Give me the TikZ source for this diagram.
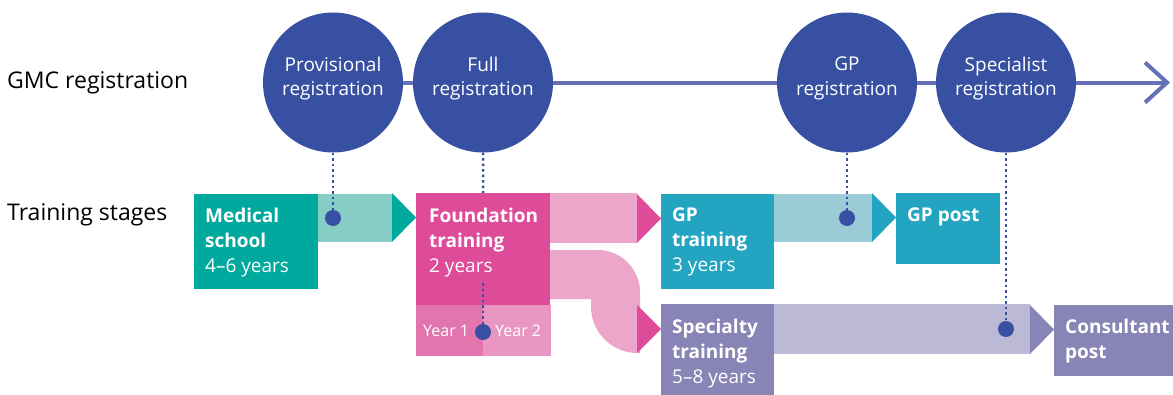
\documentclass[tikz,border=0pt]{standalone}
\usepackage{fontspec}
\setmainfont{Open Sans}
\usetikzlibrary{arrows.meta}
\definecolor{gmcblue}{RGB}{56,80,162}
\definecolor{gmcline}{RGB}{101,112,184}
\definecolor{medteal}{RGB}{0,169,157}
\definecolor{medlight}{RGB}{134,205,198}
\definecolor{fdpink}{RGB}{222,76,153}
\definecolor{fdlight}{RGB}{235,166,201}
\definecolor{fdyearA}{RGB}{226,116,174}
\definecolor{fdyearB}{RGB}{233,150,194}
\definecolor{gpteal}{RGB}{35,165,193}
\definecolor{gplight}{RGB}{156,203,216}
\definecolor{stpurple}{RGB}{136,132,181}
\definecolor{stlight}{RGB}{188,185,215}

% light band from one stage box, ending in a tip on the next one
\newcommand{\stageband}[4]{%
  \fill[#1] (#3.north east) rectangle ([xshift=-24pt,yshift=-49pt]#4.north west);
  \fill[#2] ([xshift=-24pt]#4.north west) -- ([yshift=-24.5pt]#4.north west)
    -- ([xshift=-24pt,yshift=-49pt]#4.north west) -- cycle;}

\begin{document}
\begin{tikzpicture}[x=1pt,y=-1pt,
  reg/.style={circle,fill=gmcblue,minimum size=140pt,inner sep=0pt},
  regtext/.style={inner sep=0pt,text=white,align=center,font=\fontsize{19}{24.5}\selectfont},
  regline/.style={gmcline,line width=4pt},
  stagebox/.style={fill=#1,anchor=north west,inner sep=0pt},
  stagetext/.style={anchor=north west,inner sep=0pt,align=left,text=white,
    font=\fontsize{19}{25}\selectfont},
  yeartext/.style={anchor=west,inner sep=0pt,text=white,font=\fontsize{16}{20}\selectfont},
  regdot/.style={circle,fill=gmcblue,minimum size=16pt,inner sep=0pt},
  dotline/.style={gmcblue,line width=2.5pt,dash pattern=on 2.5pt off 3pt},
  rowlabel/.style={anchor=west,inner sep=0pt,font=\fontsize{23}{27}\selectfont}]
  \useasboundingbox (0,0) rectangle (1173,394);

  \node[rowlabel] (gmc) at (7,82.5) {GMC registration};
  \node[rowlabel] (stages) at (7,215) {Training stages};

  % registration circles
  \node[reg] (prov) at (333,82.5) {};
  \node[reg] (full) at (483,82.5) {};
  \node[reg] (gpreg) at (847,82.5) {};
  \node[reg] (spreg) at (1006,82.5) {};
  \coordinate (regend) at (1170,82.5);
  \draw[regline] (prov) -- (full) (full) -- (gpreg) (gpreg) -- (spreg);
  \draw[regline,-{Straight Barb[length=22pt,width=40pt]}] (spreg) -- (regend);
  \node[regtext] (provtxt) at ([yshift=4pt]prov) {Provisional\\registration};
  \node[regtext] (fulltxt) at ([yshift=4pt]full) {Full\\registration};
  \node[regtext] (gpregtxt) at ([yshift=4pt]gpreg) {GP\\registration};
  \node[regtext] (spregtxt) at ([yshift=4pt]spreg) {Specialist\\registration};

  % training stages
  \node[stagebox=medteal,minimum width=124pt,minimum height=95pt] (med) at (194,194) {};
  \node[stagebox=fdpink,minimum width=134pt,minimum height=112pt] (fd) at (416,193) {};
  \node[stagebox=fdyearA,minimum width=67pt,minimum height=51pt] (yrA) at (416,305) {};
  \node[stagebox=fdyearB,minimum width=68pt,minimum height=51pt] (yrB) at (483,305) {};
  \node[stagebox=gpteal,minimum width=113pt,minimum height=95pt] (gp) at (661,194) {};
  \node[stagebox=gpteal,minimum width=104pt,minimum height=71pt] (gppost) at (896,193) {};
  \node[stagebox=stpurple,minimum width=113pt,minimum height=92pt] (sp) at (661,304) {};
  \node[stagebox=stpurple,minimum width=119pt,minimum height=71pt] (cons) at (1054,305) {};

  \stageband{medlight}{medteal}{med}{fd}
  \stageband{fdlight}{fdpink}{fd}{gp}
  \stageband{gplight}{gpteal}{gp}{gppost}
  \stageband{stlight}{stpurple}{sp}{cons}
  \fill[fdlight] (550,250) -- (598,250) .. controls (621,250) and (640,269) .. (640,292)
    -- (640,353) -- (637,353) .. controls (612,353) and (591,332) .. (591,307)
    -- (591,299) -- (550,299) -- cycle;
  \fill[fdpink] ([xshift=-24pt,yshift=-1pt]sp.north west) -- ([yshift=-25pt]sp.north west)
    -- ([xshift=-24pt,yshift=-49pt]sp.north west) -- cycle;

  \node[stagetext] (medtxt) at ([shift={(11,14)}]med.north west)
    {\textbf{Medical}\\\textbf{school}\\4--6 years};
  \node[stagetext] (fdtxt) at ([shift={(13,15)}]fd.north west)
    {\textbf{Foundation}\\\textbf{training}\\2 years};
  \node[stagetext] (gptxt) at ([shift={(11,14)}]gp.north west)
    {\textbf{GP}\\\textbf{training}\\3 years};
  \node[stagetext] (gpposttxt) at ([shift={(11,15)}]gppost.north west) {\textbf{GP post}};
  \node[stagetext] (sptxt) at ([shift={(11,15)}]sp.north west)
    {\textbf{Specialty}\\\textbf{training}\\5--8 years};
  \node[stagetext] (constxt) at ([shift={(11,14)}]cons.north west)
    {\textbf{Consultant}\\\textbf{post}};
  \node[yeartext] (yrAtxt) at ([xshift=7pt]yrA.west) {Year 1};
  \node[yeartext] (yrBtxt) at ([xshift=12pt]yrB.west) {Year 2};

  % registration points
  \node[regdot] (dotmed) at (333,218) {};
  \node[regdot] (dotfd) at (483,332) {};
  \node[regdot] (dotgp) at (847,218) {};
  \node[regdot] (dotsp) at (1006,329) {};
  \draw[dotline] (prov) -- (dotmed);
  \draw[dotline] (full) -- (fd.north);
  \draw[dotline] (483,283) -- (dotfd);
  \draw[dotline] (gpreg) -- (dotgp);
  \draw[dotline] (spreg) -- (dotsp);
\end{tikzpicture}
\end{document}
